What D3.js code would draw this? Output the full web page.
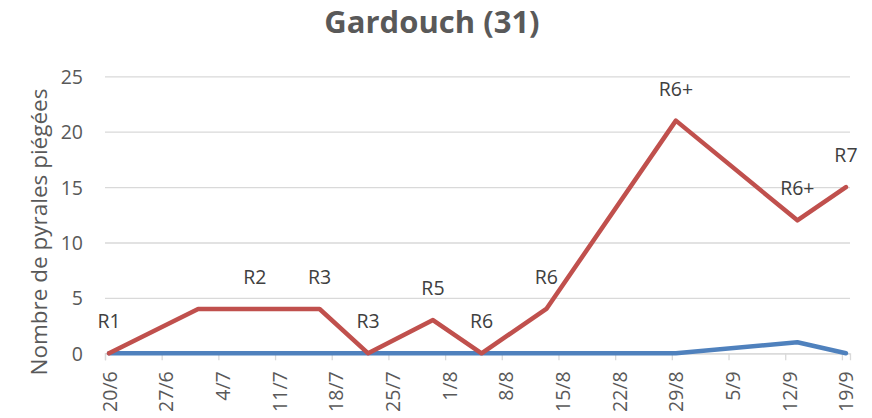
<!DOCTYPE html>
<html>
<head>
<meta charset="utf-8">
<script src="https://cdn.jsdelivr.net/npm/d3@7"></script>
<style>
  html, body { margin: 0; padding: 0; background: #ffffff; }
  svg { display: block; }
  text { font-family: "Open Sans", "DejaVu Sans", sans-serif; }
</style>
</head>
<body>
<svg id="chart" width="872" height="418"></svg>
<script>
// ---- data ----
const chartTitle = "Gardouch (31)";
const yAxisTitle = "Nombre de pyrales piégées";
const year = 2023;
const sampleDates = ["20/6", "1/7", "8/7", "16/7", "22/7", "30/7", "5/8", "13/8", "29/8", "13/9", "19/9"];
const redValues   = [0, 4, 4, 4, 0, 3, 0, 4, 21, 12, 15];
const blueValues  = [0, 0, 0, 0, 0, 0, 0, 0, 0, 1, 0];
const stageLabels = ["R1", "", "R2", "R3", "R3", "R5", "R6", "R6", "R6+", "R6+", "R7"];
const xTickLabels = ["20/6", "27/6", "4/7", "11/7", "18/7", "25/7", "1/8", "8/8", "15/8", "22/8", "29/8", "5/9", "12/9", "19/9"];
const xDomainLabels = ["20/6", "20/9"];
const yTickValues = [0, 5, 10, 15, 20, 25];

// ---- helpers ----
const parseDM = s => { const [d, m] = s.split("/").map(Number); return new Date(year, m - 1, d); };
const midDay = s => d3.timeHour.offset(parseDM(s), 12);

const svg = d3.select("#chart");
const plotLeft = 105, plotRight = 850, plotTop = 76.3, plotBottom = 353.3;

const x = d3.scaleTime().domain(xDomainLabels.map(parseDM)).range([plotLeft, plotRight]);
const y = d3.scaleLinear().domain([0, 25]).range([plotBottom, plotTop]);

// title
svg.append("text")
  .attr("x", 432).attr("y", 33)
  .attr("text-anchor", "middle")
  .attr("font-size", 31).attr("font-weight", "bold")
  .attr("fill", "#595959")
  .text(chartTitle);

// y axis title
svg.append("text")
  .attr("transform", `translate(47,232) rotate(-90)`)
  .attr("text-anchor", "middle")
  .attr("font-size", 22.5)
  .attr("fill", "#595959")
  .text(yAxisTitle);

// gridlines + y labels
const yAxis = d3.axisLeft(y).tickValues(yTickValues).tickSize(-(plotRight - plotLeft)).tickPadding(22).tickFormat(d3.format("d"));
const gy = svg.append("g").attr("transform", `translate(${plotLeft},0)`).call(yAxis);
gy.select(".domain").remove();
gy.selectAll(".tick line").attr("stroke", "#d9d9d9").attr("stroke-width", 1.3);
gy.selectAll(".tick text")
  .attr("font-size", 19.5).attr("fill", "#595959")
  .attr("font-family", '"Open Sans", sans-serif')
  .attr("dy", "0.36em");

// x axis
const xAxis = d3.axisBottom(x).tickValues(xTickLabels.map(parseDM)).tickSize(7).tickFormat(d3.timeFormat("%-d/%-m"));
const gx = svg.append("g").attr("transform", `translate(0,${plotBottom})`).call(xAxis);
gx.select(".domain").attr("stroke", "#d9d9d9").attr("stroke-width", 1.3);
gx.selectAll(".tick line").attr("stroke", "#d9d9d9").attr("stroke-width", 1.3);
gx.selectAll(".tick text")
  .attr("font-size", 19.5).attr("fill", "#595959")
  .attr("font-family", '"Open Sans", sans-serif')
  .attr("text-anchor", "end")
  .attr("transform", "translate(11,18) rotate(-90)")
  .attr("x", 0).attr("y", 0).attr("dy", 0);

// lines
const line = d3.line().x(d => x(midDay(d.date))).y(d => y(d.value));
const blueData = sampleDates.map((d, i) => ({ date: d, value: blueValues[i] }));
const redData = sampleDates.map((d, i) => ({ date: d, value: redValues[i], label: stageLabels[i] }));

svg.append("path").datum(blueData)
  .attr("d", line).attr("fill", "none")
  .attr("stroke", "#4f81bd").attr("stroke-width", 4.5)
  .attr("stroke-linejoin", "round").attr("stroke-linecap", "round");

svg.append("path").datum(redData)
  .attr("d", line).attr("fill", "none")
  .attr("stroke", "#c0504d").attr("stroke-width", 4.5)
  .attr("stroke-linejoin", "round").attr("stroke-linecap", "round");

// data labels
svg.append("g").selectAll("text")
  .data(redData.filter(d => d.label))
  .join("text")
  .attr("x", d => x(midDay(d.date)))
  .attr("y", d => y(d.value) - 25)
  .attr("text-anchor", "middle")
  .attr("font-size", 19.5)
  .attr("fill", "#404040")
  .text(d => d.label);
</script>
</body>
</html>
